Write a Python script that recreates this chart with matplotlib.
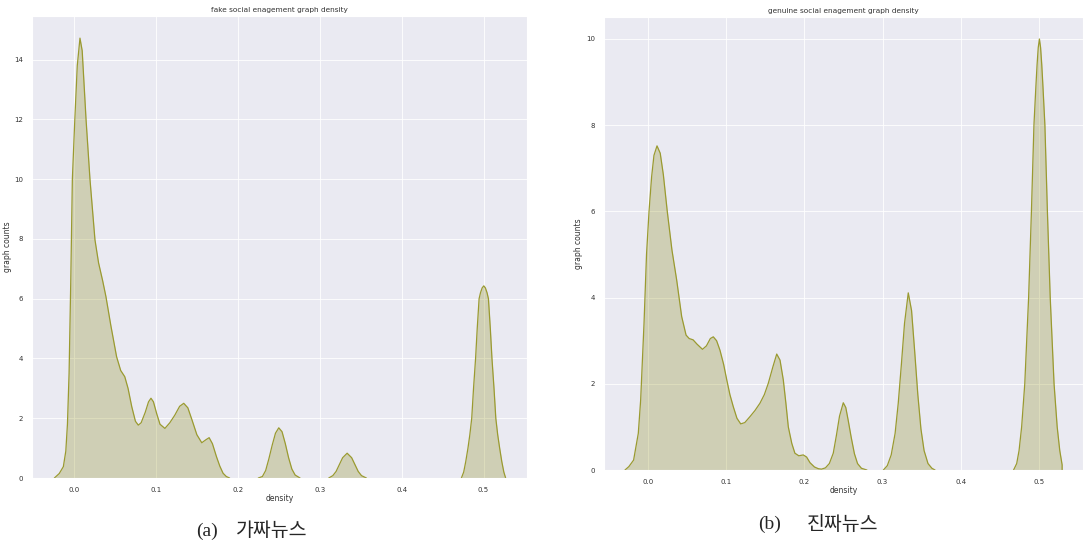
import matplotlib
matplotlib.use('Agg')
import matplotlib.pyplot as plt
import numpy as np
import seaborn as sns

# curve values (density -> graph counts)
fake_density = [-0.024, -0.018, -0.013, -0.010, -0.008, -0.006, -0.004, -0.002, 0.001, 0.004,
                0.0073, 0.010, 0.0147, 0.0195, 0.0256, 0.030, 0.035, 0.039, 0.045, 0.052,
                0.057, 0.062, 0.066, 0.0705, 0.075, 0.0785, 0.082, 0.087, 0.091, 0.094,
                0.097, 0.101, 0.105, 0.111, 0.117, 0.123, 0.129, 0.134, 0.139, 0.144,
                0.150, 0.156, 0.161, 0.165, 0.169, 0.174, 0.178, 0.182, 0.186, 0.190,
                0.225, 0.230, 0.234, 0.238, 0.242, 0.246, 0.250, 0.254, 0.258, 0.262,
                0.266, 0.270, 0.276, 0.311, 0.316, 0.320, 0.324, 0.328, 0.3335, 0.339,
                0.343, 0.347, 0.351, 0.357, 0.473, 0.4758, 0.4783, 0.481, 0.4833, 0.4856,
                0.4878, 0.4903, 0.4923, 0.4946, 0.4963, 0.4983, 0.5003, 0.5023, 0.5043, 0.506,
                0.5083, 0.5103, 0.5128, 0.515, 0.5173, 0.5197, 0.5223, 0.5248, 0.527]
fake_counts = [0.0, 0.15, 0.38, 0.9, 1.8, 3.5, 6.5, 10.0, 12.0, 13.8,
               14.72, 14.3, 12.0, 10.0, 7.97, 7.2, 6.6, 6.07, 5.1, 4.06,
               3.6, 3.39, 3.0, 2.39, 1.9, 1.77, 1.85, 2.2, 2.55, 2.67,
               2.55, 2.15, 1.8, 1.66, 1.85, 2.1, 2.4, 2.5, 2.35, 1.95,
               1.45, 1.18, 1.28, 1.35, 1.15, 0.71, 0.4, 0.16, 0.05, 0.0,
               0.0, 0.05, 0.25, 0.65, 1.1, 1.5, 1.68, 1.55, 1.15, 0.68,
               0.3, 0.1, 0.0, 0.0, 0.08, 0.22, 0.45, 0.68, 0.83, 0.68,
               0.45, 0.22, 0.08, 0.0, 0.0, 0.2, 0.55, 1.0, 1.45, 2.0,
               3.0, 4.0, 5.0, 6.0, 6.2, 6.36, 6.43, 6.36, 6.2, 6.0,
               5.0, 4.0, 3.0, 2.0, 1.45, 1.0, 0.55, 0.2, 0.0]

real_density = [-0.029, -0.024, -0.018, -0.012, -0.009, -0.0047, -0.0015, 0.0017, 0.005, 0.008,
                0.0119, 0.016, 0.020, 0.025, 0.031, 0.037, 0.0434, 0.049, 0.053, 0.058,
                0.063, 0.070, 0.075, 0.080, 0.0838, 0.088, 0.0923, 0.097, 0.101, 0.105,
                0.1093, 0.114, 0.1188, 0.124, 0.1307, 0.137, 0.1434, 0.149, 0.154, 0.160,
                0.1648, 0.169, 0.1732, 0.1765, 0.1796, 0.184, 0.188, 0.193, 0.1987, 0.203,
                0.2073, 0.213, 0.218, 0.222, 0.227, 0.232, 0.237, 0.241, 0.245, 0.2498,
                0.253, 0.256, 0.260, 0.264, 0.268, 0.273, 0.280, 0.301, 0.306, 0.311,
                0.316, 0.320, 0.324, 0.328, 0.3328, 0.337, 0.341, 0.345, 0.349, 0.353,
                0.358, 0.363, 0.367, 0.4673, 0.4713, 0.4743, 0.4776, 0.4816, 0.4865, 0.4901,
                0.4933, 0.4958, 0.4973, 0.4988, 0.5003, 0.5018, 0.5033, 0.5048, 0.5073, 0.5105,
                0.5141, 0.519, 0.523, 0.5263, 0.5293, 0.5293]
real_counts = [0.0, 0.08, 0.23, 0.85, 1.62, 3.4, 5.0, 6.0, 6.8, 7.3,
               7.52, 7.35, 6.85, 6.0, 5.1, 4.41, 3.56, 3.13, 3.05, 3.02,
               2.92, 2.8, 2.88, 3.05, 3.09, 3.0, 2.78, 2.45, 2.09, 1.75,
               1.47, 1.2, 1.07, 1.1, 1.24, 1.38, 1.55, 1.75, 2.01, 2.4,
               2.69, 2.55, 2.09, 1.55, 1.0, 0.62, 0.39, 0.33, 0.35, 0.3,
               0.17, 0.07, 0.03, 0.02, 0.05, 0.15, 0.39, 0.8, 1.25, 1.56,
               1.45, 1.16, 0.75, 0.38, 0.15, 0.04, 0.0, 0.0, 0.1, 0.35,
               0.85, 1.55, 2.45, 3.4, 4.11, 3.7, 2.75, 1.75, 0.95, 0.45,
               0.15, 0.04, 0.0, 0.0, 0.15, 0.45, 1.0, 2.0, 4.0, 6.0,
               8.0, 8.9, 9.4, 9.8, 10.0, 9.8, 9.4, 8.9, 8.0, 6.0,
               4.0, 2.0, 1.0, 0.45, 0.12, 0.0]

x_ticks = [0.0, 0.1, 0.2, 0.3, 0.4, 0.5]
fake_yticks = [0, 2, 4, 6, 8, 10, 12, 14]
real_yticks = [0, 2, 4, 6, 8, 10]

sns.set_style('darkgrid')
plt.rcParams['font.family'] = ['DejaVu Sans']

fig = plt.figure(figsize=(10.84, 5.45), dpi=100)
ax1 = fig.add_axes([0.0295, 0.1229, 0.4566, 0.8477])
ax2 = fig.add_axes([0.5572, 0.1376, 0.4419, 0.8312])


def split_flat(x, y):
    # break the outline where it runs flat along zero between the peaks
    lx, ly = [], []
    for i in range(len(x)):
        if i > 0 and y[i] == 0 and y[i - 1] == 0:
            lx.append(np.nan)
            ly.append(np.nan)
        lx.append(x[i])
        ly.append(y[i])
    return lx, ly


def draw(ax, x, y, title, xlim, ylim, yticks, ylab_x):
    ax.fill_between(x, y, 0, color='olive', alpha=0.25, linewidth=0)
    lx, ly = split_flat(x, y)
    ax.plot(lx, ly, color='#9a9a30', linewidth=0.9)
    ax.set_xlim(*xlim)
    ax.set_ylim(*ylim)
    ax.set_xticks(x_ticks)
    ax.set_xticklabels(['%.1f' % t for t in x_ticks])
    ax.set_yticks(yticks)
    ax.tick_params(labelsize=5, colors='#333333', pad=3)
    ax.grid(color='white', linewidth=0.6)
    ax.set_title(title, fontsize=5.3, color='#333333', pad=3)
    ax.set_xlabel('density', fontsize=5.5, color='#333333', labelpad=1)
    ax.set_ylabel('graph counts', fontsize=5.5, color='#333333')
    ax.yaxis.set_label_coords(ylab_x, 0.5)


draw(ax1, fake_density, fake_counts, 'fake social enagement graph density',
     (-0.0513, 0.553), (0, 15.46), fake_yticks, -0.040)
draw(ax2, real_density, real_counts, 'genuine social enagement graph density',
     (-0.0558, 0.556), (0, 10.51), real_yticks, -0.044)

# captions under the panels
fig.text(207 / 1084, 1 - 531 / 545, '(a)', family='Liberation Serif', fontsize=14,
         ha='center', va='center')
fig.text(272 / 1084, 1 - 531 / 545, '가짜뉴스', family='Noto Sans CJK KR', fontsize=14,
         ha='center', va='center')
fig.text(770 / 1084, 1 - 524 / 545, '(b)', family='Liberation Serif', fontsize=14,
         ha='center', va='center')
fig.text(843 / 1084, 1 - 524 / 545, '진짜뉴스', family='Noto Sans CJK KR', fontsize=14,
         ha='center', va='center')

fig.savefig('out.png', dpi=100)
